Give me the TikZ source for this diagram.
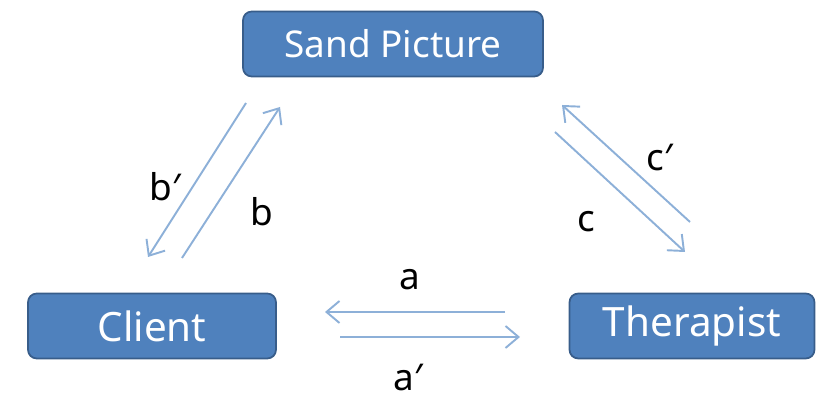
\documentclass[tikz,border=0pt]{standalone}
\usepackage{fontspec}
\setmainfont{Noto Sans}
\usepackage{xcolor}
\usetikzlibrary{arrows.meta,positioning}
\definecolor{boxblue}{RGB}{79,129,189}
\definecolor{boxedge}{RGB}{56,93,138}
\definecolor{arrowblue}{RGB}{141,176,216}

\begin{document}
\begin{tikzpicture}[font=\fontsize{21}{24}\selectfont,
  party/.style={draw=boxedge,line width=1pt,fill=boxblue,rounded corners=5pt,
    text=white,minimum height=1.3cm,inner sep=0pt},
  big/.style={font=\fontsize{23}{26}\selectfont},
  flow/.style={draw=arrowblue,line width=1.1pt,-{Straight Barb[length=2.6mm,width=4.4mm]}}]
\useasboundingbox (0,0) rectangle (16.54,8.18);
% the three parties
\node[party,minimum width=6.0cm] (sand) at (7.86,7.30) {Sand Picture};
\node[party,big,minimum width=4.96cm] (client) at (3.04,1.66) {Client};
\node[party,big,minimum width=4.9cm] (ther) at (13.84,1.66) {\raisebox{-2pt}{Therapist}};
% arrow ends
\coordinate (a1) at (10.10,1.94); \coordinate (a2) at (6.50,1.94);
\coordinate (a3) at (6.80,1.44); \coordinate (a4) at (10.40,1.44);
\coordinate (b1) at (4.92,6.12); \coordinate (b2) at (2.96,3.04);
\coordinate (b3) at (3.64,3.02); \coordinate (b4) at (5.60,6.04);
\coordinate (c1) at (11.10,5.54); \coordinate (c2) at (13.70,3.14);
\coordinate (c3) at (13.80,3.74); \coordinate (c4) at (11.24,6.08);
\draw[flow] (a1)--(a2); \draw[flow] (a3)--(a4);
\draw[flow] (b1)--(b2); \draw[flow] (b3)--(b4);
\draw[flow] (c1)--(c2); \draw[flow] (c3)--(c4);
% labels
\node (la) at (8.20,2.58) {a}; \node (la2) at (8.16,0.62) {a′};
\node (lb2) at (3.30,4.44) {b′}; \node (lb) at (5.24,3.94) {b};
\node (lc) at (11.72,3.74) {c}; \node (lc2) at (13.20,5.02) {c′};
\end{tikzpicture}
\end{document}
